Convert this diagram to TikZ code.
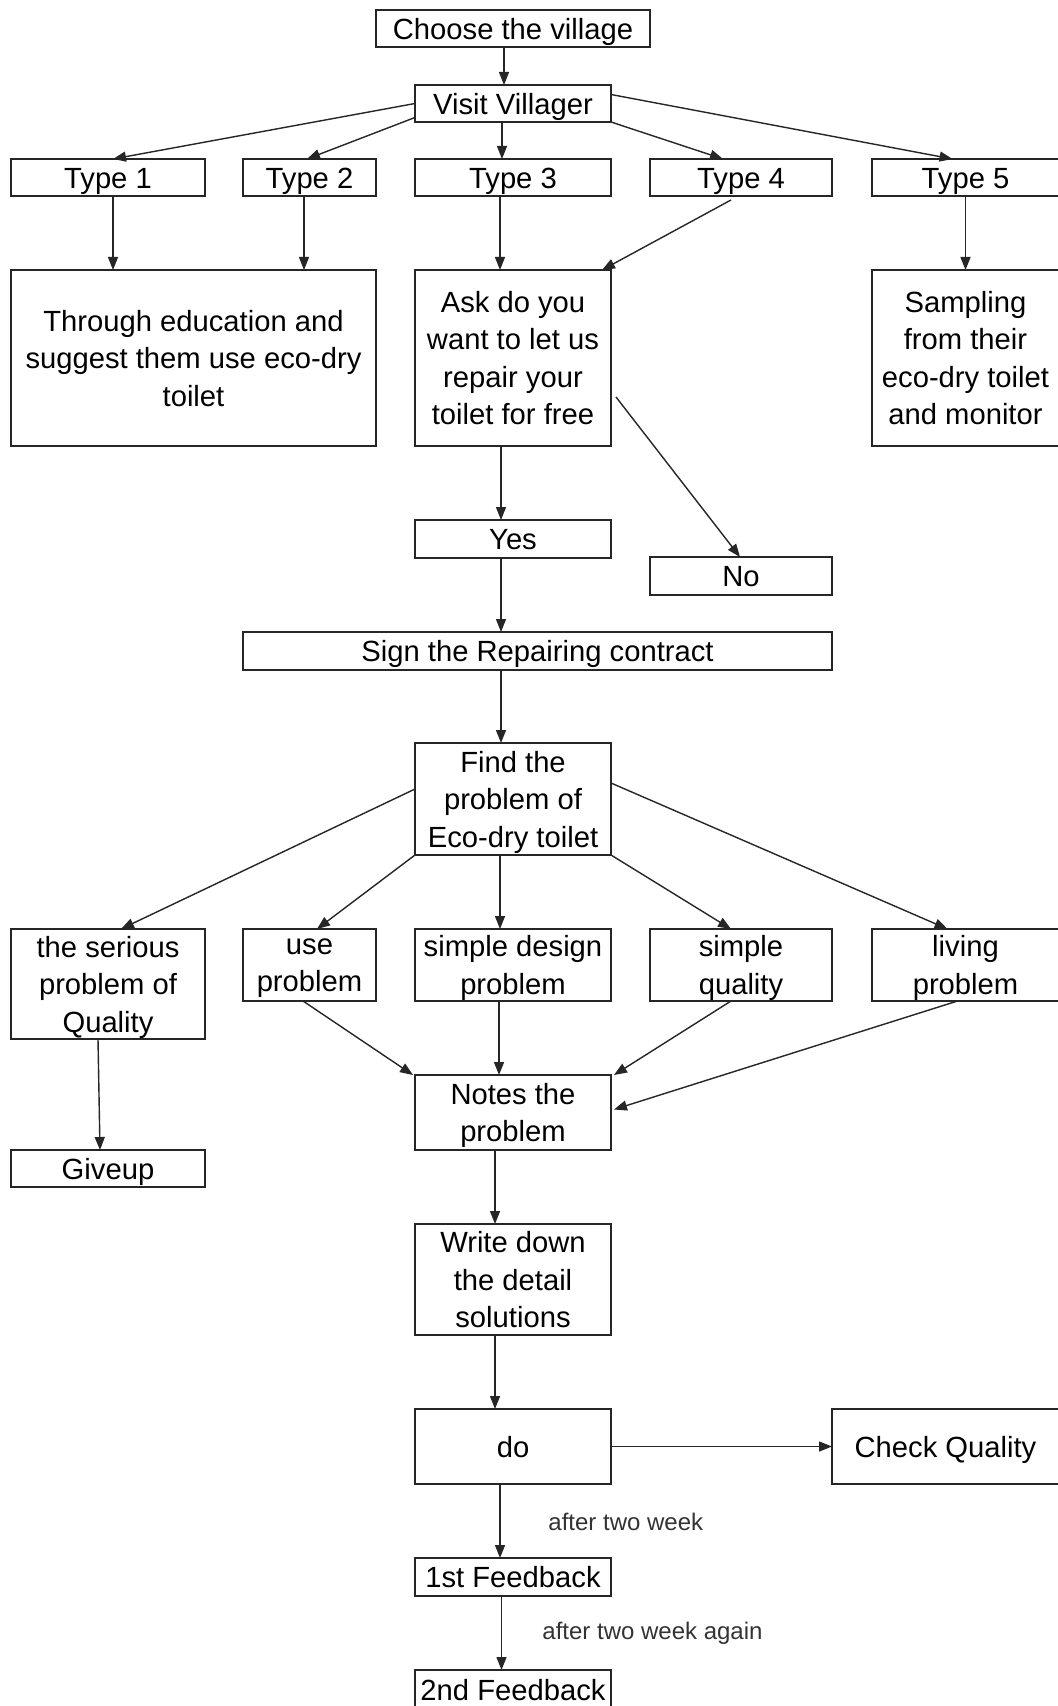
\documentclass[tikz,border=0pt]{standalone}
\usepackage{fontspec}
\setmainfont{Liberation Sans}
\usetikzlibrary{arrows.meta}

% Box given by its corners (x1,y1) and (x2,y2), in pixel units
\newcommand\pxbox[6]{%
  \pgfmathsetmacro\bxw{(#4-#2)*0.5}%
  \pgfmathsetmacro\bxh{(#5-#3)*0.5}%
  \node[flowbox, minimum width=\bxw pt, minimum height=\bxh pt] (#1)
    at ({(#2+#4)/2},{(#3+#5)/2}) {#6};%
}
% invisible strut giving every first line the same ascent
\newcommand\capstrut{\rule{0pt}{10.6pt}}

\begin{document}
\begin{tikzpicture}[
  x=0.5pt, y=-0.5pt,
  flowbox/.style={draw=black!85, line width=1pt, fill=white, inner sep=0pt,
    outer sep=0pt, align=center, text depth=0pt,
    execute at begin node=\capstrut,
    font=\fontsize{14.6}{18.75}\selectfont},
  arr/.style={draw=black!85, line width=0.7pt,
    -{Triangle[length=6.5pt,width=5pt]}},
  note/.style={anchor=west, inner sep=0pt, text=black!80,
    font=\fontsize{12}{14}\selectfont}
]
\useasboundingbox (0,0) rectangle (1057,1706);
\fill[white] (0,0) rectangle (1057,1706);

% top of the chart
\pxbox{choose}{376}{10}{650}{47}{Choose the village}
\pxbox{visit}{415}{85}{611}{122}{Visit Villager}

% the five types of household
\pxbox{type1}{11}{159}{205}{196}{Type 1}
\pxbox{type2}{243}{159}{376}{196}{Type 2}
\pxbox{type3}{415}{159}{611}{196}{Type 3}
\pxbox{type4}{650}{159}{832}{196}{Type 4}
\pxbox{type5}{872}{159}{1059}{196}{Type 5}

\pxbox{educ}{11}{270}{376}{446}{Through education and\\suggest them use eco-dry\\toilet}
\pxbox{ask}{415}{270}{611}{446}{Ask do you\\want to let us\\repair your\\toilet for free}
\pxbox{sample}{872}{270}{1059}{446}{Sampling\\from their\\eco-dry toilet\\and monitor}

\pxbox{yes}{415}{520}{611}{558}{Yes}
\pxbox{no}{650}{557}{832}{595}{No}
\pxbox{sign}{243}{632}{832}{670}{Sign the Repairing contract}
\pxbox{find}{415}{743}{611}{855}{Find the\\problem of\\Eco-dry toilet}

% kinds of problem
\pxbox{serious}{11}{929}{205}{1039}{the serious\\problem of\\Quality}
\pxbox{use}{243}{929}{376}{1001}{use\\problem}
\pxbox{design}{415}{929}{611}{1001}{simple design\\problem}
\pxbox{squal}{650}{929}{832}{1001}{simple\\quality}
\pxbox{living}{872}{929}{1059}{1001}{living\\problem}

\pxbox{notes}{415}{1075}{611}{1150}{Notes the\\problem}
\pxbox{giveup}{11}{1150}{205}{1187}{Giveup}
\pxbox{write}{415}{1224}{611}{1335}{Write down\\the detail\\solutions}
\pxbox{do}{415}{1409}{611}{1484}{do}
\pxbox{check}{832}{1409}{1059}{1484}{Check Quality}
\pxbox{fb1}{415}{1558}{611}{1596}{1st Feedback}
\pxbox{fb2}{415}{1670}{611}{1710}{2nd Feedback}

% connectors
\draw[arr] ([shift={(-9,0)}]choose.south) -- ([shift={(-9,0)}]visit.north);
\draw[arr] (visit.west) -- ([shift={(5,0)}]type1.north);
\draw[arr] ([shift={(0,14)}]visit.west) -- ([shift={(-2.5,0)}]type2.north);
\draw[arr] ([shift={(-11,0)}]visit.south) -- ([shift={(-11,0)}]type3.north);
\draw[arr] (visit.south east) -- ([shift={(-18,0)}]type4.north);
\draw[arr] ([shift={(0,-9)}]visit.east) -- ([shift={(-13,0)}]type5.north);

\draw[arr] ([shift={(5,0)}]type1.south) -- ([shift={(5,0)}]type1.south |- educ.north);
\draw[arr] ([shift={(-5.5,0)}]type2.south) -- ([shift={(-5.5,0)}]type2.south |- educ.north);
\draw[arr] ([shift={(-13,0)}]type3.south) -- ([shift={(-13,0)}]ask.north);
\draw[arr] ([shift={(-10,4)}]type4.south) -- ([shift={(-9,0)}]ask.north east);
\draw[arr] (type5.south) -- (sample.north);

\draw[arr] ([shift={(-12,0)}]ask.south) -- ([shift={(-12,0)}]yes.north);
\draw[arr] ([shift={(5,39)}]ask.east) -- ([shift={(-1,0)}]no.north);
\draw[arr] ([shift={(-12,0)}]yes.south) -- ([shift={(-12,0)}]yes.south |- sign.north);
\draw[arr] ([shift={(-12,0)}]find.north |- sign.south) -- ([shift={(-12,0)}]find.north);

\draw[arr] ([shift={(0,-10)}]find.west) -- ([shift={(13,0)}]serious.north);
\draw[arr] (find.south west) -- ([shift={(7.5,0)}]use.north);
\draw[arr] ([shift={(-13,0)}]find.south) -- ([shift={(-13,0)}]design.north);
\draw[arr] (find.south east) -- ([shift={(-10,0)}]squal.north);
\draw[arr] ([shift={(0,-16)}]find.east) -- ([shift={(-18,0)}]living.north);

\draw[arr] ([shift={(-10,0)}]serious.south) -- ([shift={(-8,0)}]giveup.north);
\draw[arr] ([shift={(-6.5,0)}]use.south) -- ([shift={(-2,0)}]notes.north west);
\draw[arr] ([shift={(-14,0)}]design.south) -- ([shift={(-14,0)}]notes.north);
\draw[arr] ([shift={(-10,0)}]squal.south) -- ([shift={(3,0)}]notes.north east);
\draw[arr] ([shift={(-8,0)}]living.south) -- ([shift={(3,-3)}]notes.east);

\draw[arr] ([shift={(-18,0)}]notes.south) -- ([shift={(-18,0)}]write.north);
\draw[arr] ([shift={(-18,0)}]write.south) -- ([shift={(-18,0)}]do.north);
\draw[arr] (do.east) -- (check.west);
\draw[arr] ([shift={(-13,0)}]do.south) -- ([shift={(-13,0)}]fb1.north);
\draw[arr] ([shift={(-11.5,0)}]fb1.south) -- ([shift={(-11.5,0)}]fb2.north);

% waiting times
\node[note] (wait1) at (548,1522) {after two week};
\node[note] (wait2) at (542,1633) {after two week again};
\end{tikzpicture}
\end{document}
